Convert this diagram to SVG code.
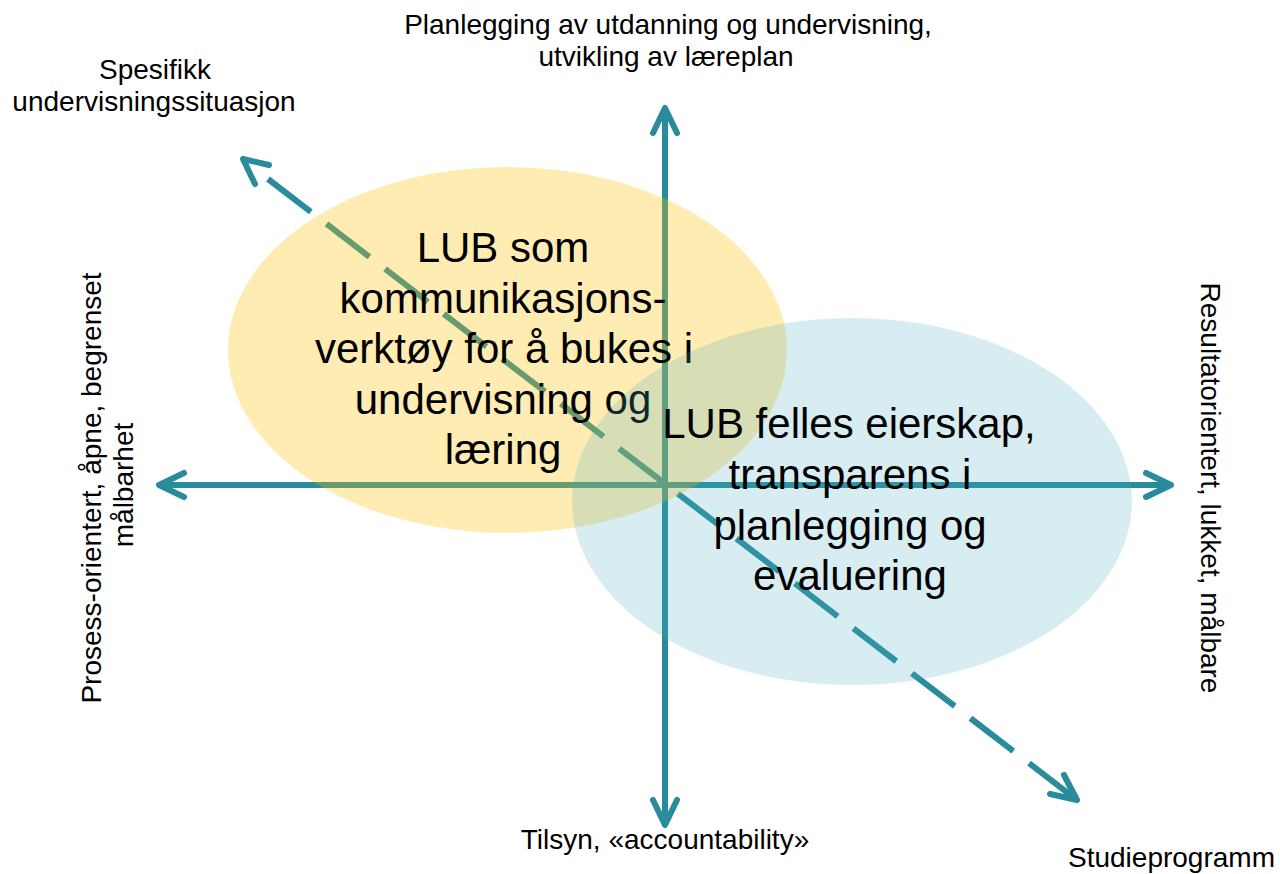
<svg xmlns="http://www.w3.org/2000/svg" width="1280" height="874" viewBox="0 0 1280 874">
<style>
.lbl{font-family:"Liberation Sans",Arial,sans-serif;font-size:28px;fill:#000}
.big{font-family:"Liberation Sans",Arial,sans-serif;font-size:42px;fill:#000;text-anchor:middle}
.ax{stroke:#288C9C;stroke-width:6;fill:none}
.head{stroke:#288C9C;stroke-width:6;fill:none;stroke-linecap:round;stroke-linejoin:round}
</style>
<rect width="1280" height="874" fill="#fff"/>
<g id="connectors">
<line class="ax" x1="162" y1="485" x2="1168" y2="485"/>
<polyline class="head" points="184,473 159,485 184,497"/>
<polyline class="head" points="1146,473 1171,485 1146,497"/>
<line class="ax" x1="665" y1="110" x2="665" y2="823"/>
<polyline class="head" points="653,133 665,108 677,133"/>
<polyline class="head" points="653,800 665,825 677,800"/>
<line class="ax" x1="268" y1="179" x2="1077" y2="800" stroke-dasharray="54 19.8"/>
<polyline class="head" points="269,165 243,159 255,184"/>
<polyline class="head" points="1064,775 1077,800 1050,794"/>
</g>
<g id="node-yellow">
<ellipse cx="507.5" cy="350" rx="279.5" ry="183" fill="#FFC000" fill-opacity="0.3"/>
<text class="big" x="503" y="262">LUB som</text>
<text class="big" x="503" y="313">kommunikasjons-</text>
<text class="big" x="504" y="363">verktøy for å bukes i</text>
<text class="big" x="503" y="414">undervisning og</text>
<text class="big" x="503" y="464">læring</text>
</g>
<g id="node-blue">
<ellipse cx="852" cy="501.5" rx="280" ry="183.5" fill="#4BACC6" fill-opacity="0.22"/>
<text class="big" x="849" y="438">LUB felles eierskap,</text>
<text class="big" x="850" y="489">transparens i</text>
<text class="big" x="850" y="540">planlegging og</text>
<text class="big" x="850" y="590">evaluering</text>
</g>
<g id="label-top">
<text class="lbl" text-anchor="middle" x="668" y="34">Planlegging av utdanning og undervisning,</text>
<text class="lbl" text-anchor="middle" x="666" y="66">utvikling av læreplan</text>
</g>
<g id="label-topleft">
<text class="lbl" text-anchor="middle" x="155" y="79">Spesifikk</text>
<text class="lbl" text-anchor="middle" x="154" y="111">undervisningssituasjon</text>
</g>
<g id="label-left">
<text class="lbl" text-anchor="middle" transform="translate(101,488) rotate(-90)">Prosess-orientert, åpne, begrenset</text>
<text class="lbl" text-anchor="middle" transform="translate(133,485) rotate(-90)">målbarhet</text>
</g>
<g id="label-right">
<text class="lbl" text-anchor="middle" transform="translate(1201,488) rotate(90)">Resultatorientert, lukket, målbare</text>
</g>
<g id="label-bottom">
<text class="lbl" text-anchor="middle" x="665" y="849">Tilsyn, «accountability»</text>
</g>
<g id="label-bottomright">
<text class="lbl" x="1068" y="867">Studieprogramm</text>
</g>
</svg>
